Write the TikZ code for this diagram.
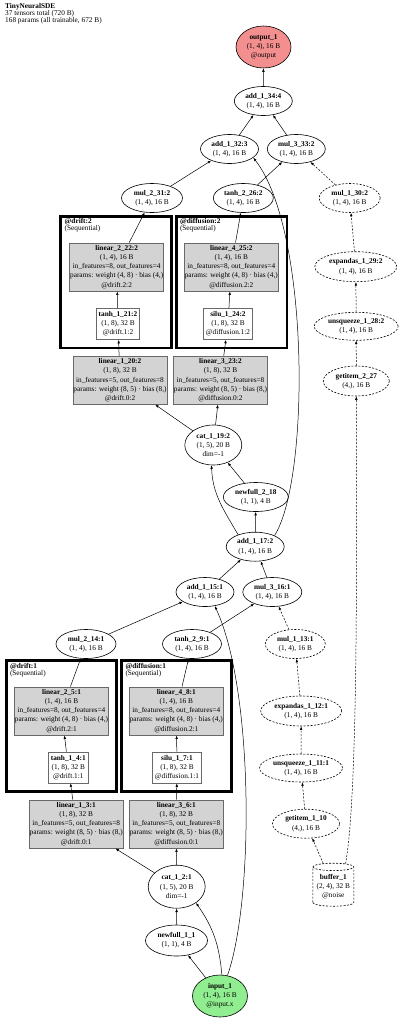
\documentclass[tikz,border=0pt]{standalone}
\usepackage{fontspec}
\setmainfont{Liberation Serif}
\usetikzlibrary{shapes.geometric,arrows.meta}
\definecolor{outred}{RGB}{243,143,143}
\definecolor{ingreen}{RGB}{144,238,144}
\definecolor{modgray}{RGB}{211,211,211}
\definecolor{modedge}{RGB}{105,105,105}
\newcommand{\nfont}{\fontsize{7.3}{9.1}\selectfont}
\newcommand{\hdrfont}{\fontsize{7.3}{6.9}\selectfont}
\tikzset{
op/.style = {draw, ellipse, line width=0.6pt, inner sep=0pt, minimum width=58pt, minimum height=29pt, align=center, font=\nfont},
opdash/.style = {op, dash pattern=on 2pt off 1.5pt},
module/.style = {draw=modedge, fill=modgray, rectangle, line width=0.6pt, inner sep=0.5pt, minimum width=92pt, minimum height=48.3pt, align=center, font=\nfont},
act/.style = {draw=modedge, fill=white, rectangle, line width=0.6pt, inner sep=2.2pt, minimum height=31pt, align=center, font=\nfont},
cluster/.style = {draw, rectangle, line width=2.5pt, inner sep=0pt},
clabel/.style = {anchor=north west, inner sep=0pt, align=left, font=\hdrfont},
buffer/.style = {draw, cylinder, shape border rotate=90, aspect=0.22, line width=0.6pt, dash pattern=on 2pt off 1.5pt, inner sep=0pt, minimum width=41pt, minimum height=43pt, align=center, font=\nfont},
link/.style = {->, line width=0.5pt},
ghost/.style = {link, dash pattern=on 2pt off 1.5pt}
}

\begin{document}
\begin{tikzpicture}[x=1pt, y=-1pt, >={Latex[length=3.5pt,width=2.6pt]}]
    \useasboundingbox (0,0) rectangle (400,1020);
    % header
    \node [clabel] (title) at (5,3) {\textbf{TinyNeuralSDE}\\37 tensors total (720 B)\\168 params (all trainable, 672 B)};

    % the module groups go first, so the blocks sit on top of them
    \node [cluster, minimum width=110.8pt, minimum height=131.7pt] (drift2) at (115.9,282.2) {};
    \node [cluster, minimum width=110.7pt, minimum height=131.7pt] (diff2) at (231.65,282.2) {};
    \node [cluster, minimum width=110.2pt, minimum height=131pt] (drift1) at (61.4,726) {};
    \node [cluster, minimum width=110.2pt, minimum height=131pt] (diff1) at (176.4,726) {};
    \node [clabel] (drift2lbl) at (64.5,218.6) {\textbf{@drift:2}\\(Sequential)};
    \node [clabel] (diff2lbl) at (179.8,218.6) {\textbf{@diffusion:2}\\(Sequential)};
    \node [clabel] (drift1lbl) at (9.8,662.8) {\textbf{@drift:1}\\(Sequential)};
    \node [clabel] (diff1lbl) at (125.3,662.8) {\textbf{@diffusion:1}\\(Sequential)};

    % top half (step 2)
    \node [op, fill=outred, minimum width=55pt, minimum height=42pt] (out) at (263.5,47) {\textbf{output\_1}\\(1, 4), 16 B\\@output};
    \node [op] (a34) at (263.3,101) {\textbf{add\_1\_34:4}\\(1, 4), 16 B};
    \node [op] (a32) at (229.5,149) {\textbf{add\_1\_32:3}\\(1, 4), 16 B};
    \node [op] (m33) at (296.3,149) {\textbf{mul\_3\_33:2}\\(1, 4), 16 B};
    \node [op, minimum width=61pt] (m31) at (152,198) {\textbf{mul\_2\_31:2}\\(1, 4), 16 B};
    \node [op, minimum width=60pt] (t26) at (243.3,198) {\textbf{tanh\_2\_26:2}\\(1, 4), 16 B};
    \node [opdash, minimum width=61pt] (m30) at (349.7,198) {\textbf{mul\_1\_30:2}\\(1, 4), 16 B};
    \node [module] (l22) at (116.7,267) {\textbf{linear\_2\_22:2}\\(1, 4), 16 B\\in\_features=8, out\_features=4\\params: weight (4, 8) · bias (4,)\\@drift.2:2};
    \node [module] (l25) at (231.3,267) {\textbf{linear\_4\_25:2}\\(1, 4), 16 B\\in\_features=8, out\_features=4\\params: weight (4, 8) · bias (4,)\\@diffusion.2:2};
    \node [opdash, minimum width=82pt, minimum height=30pt] (e29) at (355.8,266.7) {\textbf{expandas\_1\_29:2}\\(1, 4), 16 B};
    \node [act] (t21) at (118,324) {\textbf{tanh\_1\_21:2}\\(1, 8), 32 B\\@drift.1:2};
    \node [act] (s24) at (228,324) {\textbf{silu\_1\_24:2}\\(1, 8), 32 B\\@diffusion.1:2};
    \node [opdash, minimum width=84pt, minimum height=28pt] (u28) at (356.2,326.3) {\textbf{unsqueeze\_1\_28:2}\\(1, 4), 16 B};
    \node [module] (l20) at (120,380.2) {\textbf{linear\_1\_20:2}\\(1, 8), 32 B\\in\_features=5, out\_features=8\\params: weight (8, 5) · bias (8,)\\@drift.0:2};
    \node [module] (l23) at (220.5,380.2) {\textbf{linear\_3\_23:2}\\(1, 8), 32 B\\in\_features=5, out\_features=8\\params: weight (8, 5) · bias (8,)\\@diffusion.0:2};
    \node [opdash, minimum width=66pt, minimum height=30pt] (g27) at (356.3,381) {\textbf{getitem\_2\_27}\\(4,), 16 B};
    \node [op, minimum width=57pt, minimum height=40pt] (c19) at (213.3,445) {\textbf{cat\_1\_19:2}\\(1, 5), 20 B\\dim=-1};
    \node [op, minimum width=65pt] (n18) at (255.8,497) {\textbf{newfull\_2\_18}\\(1, 1), 4 B};
    \node [op] (a17) at (255.2,546.7) {\textbf{add\_1\_17:2}\\(1, 4), 16 B};

    % bottom half (step 1)
    \node [op] (a15) at (205,592) {\textbf{add\_1\_15:1}\\(1, 4), 16 B};
    \node [op, minimum width=59pt] (m16) at (272.3,592) {\textbf{mul\_3\_16:1}\\(1, 4), 16 B};
    \node [op, minimum width=60pt] (m14) at (86,644) {\textbf{mul\_2\_14:1}\\(1, 4), 16 B};
    \node [op, minimum width=59pt] (t9) at (192,644) {\textbf{tanh\_2\_9:1}\\(1, 4), 16 B};
    \node [opdash, minimum width=60pt] (m13) at (295.3,644) {\textbf{mul\_1\_13:1}\\(1, 4), 16 B};
    \node [module] (l5) at (61.5,711) {\textbf{linear\_2\_5:1}\\(1, 4), 16 B\\in\_features=8, out\_features=4\\params: weight (4, 8) · bias (4,)\\@drift.2:1};
    \node [module] (l8) at (176.3,711) {\textbf{linear\_4\_8:1}\\(1, 4), 16 B\\in\_features=8, out\_features=4\\params: weight (4, 8) · bias (4,)\\@diffusion.2:1};
    \node [opdash, minimum width=81pt, minimum height=30pt] (e12) at (301.2,711) {\textbf{expandas\_1\_12:1}\\(1, 4), 16 B};
    \node [act] (t4) at (68.3,767.5) {\textbf{tanh\_1\_4:1}\\(1, 8), 32 B\\@drift.1:1};
    \node [act] (s7) at (177,767.5) {\textbf{silu\_1\_7:1}\\(1, 8), 32 B\\@diffusion.1:1};
    \node [opdash, minimum width=83pt, minimum height=28pt] (u11) at (301,768) {\textbf{unsqueeze\_1\_11:1}\\(1, 4), 16 B};
    \node [module] (l3) at (76.2,824) {\textbf{linear\_1\_3:1}\\(1, 8), 32 B\\in\_features=5, out\_features=8\\params: weight (8, 5) · bias (8,)\\@drift.0:1};
    \node [module] (l6) at (176.3,824) {\textbf{linear\_3\_6:1}\\(1, 8), 32 B\\in\_features=5, out\_features=8\\params: weight (8, 5) · bias (8,)\\@diffusion.0:1};
    \node [opdash, minimum width=67pt] (g10) at (306,823.7) {\textbf{getitem\_1\_10}\\(4,), 16 B};
    \node [op, minimum width=57pt, minimum height=43pt] (c2) at (176.7,886.7) {\textbf{cat\_1\_2:1}\\(1, 5), 20 B\\dim=-1};
    \node [buffer] (buf) at (333.3,886.7) {\textbf{buffer\_1}\\(2, 4), 32 B\\@noise};
    \node [op, minimum width=62pt, minimum height=31pt] (n1) at (176.5,940.5) {\textbf{newfull\_1\_1}\\(1, 1), 4 B};
    \node [op, fill=ingreen, minimum width=55pt, minimum height=42pt] (inp) at (220,996) {\textbf{input\_1}\\(1, 4), 16 B\\@input.x};

    % connect the blocks, top half
    \draw [link] (a34) -- (out);
    \draw [link] (a32) -- (a34);
    \draw [link] (m33) -- (a34);
    \draw [link] (m31) -- (a32);
    \draw [link] (t26) -- (m33);
    \draw [ghost] (m30) -- (m33);
    \draw [link] (l22) -- (m31);
    \draw [link] (l25) -- (t26);
    \draw [ghost] (e29) -- (m30);
    \draw [link] (t21) -- (l22);
    \draw [link] (s24) -- (l25);
    \draw [ghost] (u28) -- (e29);
    \draw [link] (l20) -- (t21);
    \draw [link] (l23) -- (s24);
    \draw [ghost] (g27) -- (u28);
    \draw [link] (c19) -- (l20);
    \draw [link] (c19) -- (l23);
    \draw [link] (n18) -- (c19);
    \draw [link] (a17) -- (n18);
    \draw [link] (a17.145) to[out=120,in=-88] (c19.-95);
    \draw [link] (a17.30) .. controls (310,480) and (310,230) .. (a32.-20);

    % bottom half
    \draw [link] (a15) -- (a17);
    \draw [link] (m16) -- (a17);
    \draw [link] (m14) -- (a15);
    \draw [link] (t9) -- (m16);
    \draw [ghost] (m13) -- (m16);
    \draw [link] (l5) -- (m14);
    \draw [link] (l8) -- (t9);
    \draw [ghost] (e12) -- (m13);
    \draw [link] (t4) -- (l5);
    \draw [link] (s7) -- (l8);
    \draw [ghost] (u11) -- (e12);
    \draw [link] (l3) -- (t4);
    \draw [link] (l6) -- (s7);
    \draw [ghost] (g10) -- (u11);
    \draw [link] (c2) -- (l3);
    \draw [link] (c2) -- (l6);
    \draw [link] (n1) -- (c2);
    \draw [link] (inp) -- (n1);
    \draw [link] (inp.85) to[out=95,in=-55] (c2.-40);
    \draw [link] (inp.70) .. controls (254,900) and (254,690) .. (a15.-55);
    \draw [ghost] (buf) -- (g10);
    \draw [ghost] (buf.62) .. controls (357,800) and (357,600) .. (g27.south);
\end{tikzpicture}
\end{document}
